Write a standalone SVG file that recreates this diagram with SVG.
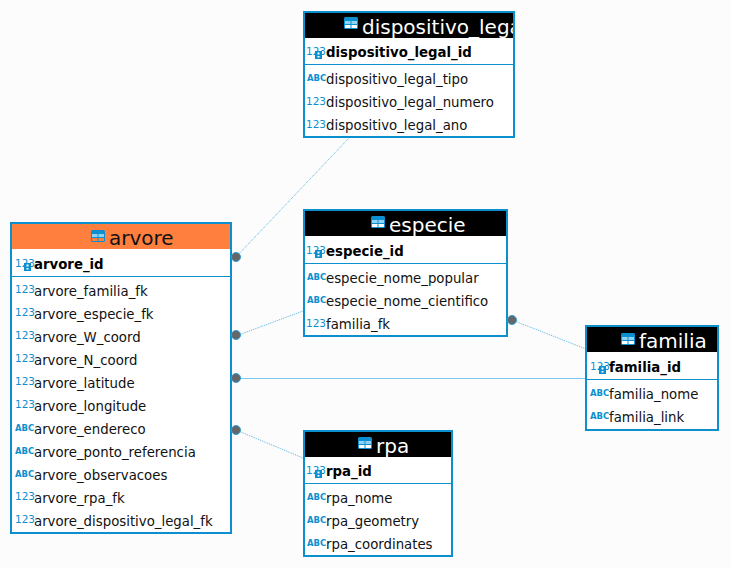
<svg xmlns="http://www.w3.org/2000/svg" xmlns:xlink="http://www.w3.org/1999/xlink" width="730" height="568" viewBox="0 0 730 568">
<style>
text{font-family:"DejaVu Sans",sans-serif}
.box{fill:#fff;stroke:#0b8fcf;stroke-width:2}
.sep{stroke:#0b8fcf;stroke-width:1}
.hd{fill:#000}
.hdo{fill:#ff7f3f}
.t{font-size:20px;fill:#fff;text-anchor:start}
.c{font-size:13.3px;fill:#111}
.k{font-size:13.3px;fill:#000;font-weight:bold}
.n{font-size:10.5px;fill:#0b8fcf}
.a{font-size:8.5px;fill:#0b8fcf;font-weight:bold}
.ln{fill:none;stroke:#55b5e0;stroke-width:1;stroke-dasharray:1 1}
.sl{fill:none;stroke:#7cc8ea;stroke-width:1}
.dot{fill:#666;stroke:#2f9fd8;stroke-width:1}
</style>
<defs>
<g id="tb"><rect x="0" y="0" width="14" height="12" rx="1.5" fill="#0b8fcf"/><rect x="1" y="4" width="5.5" height="3" fill="#8fd3f4"/><rect x="7.5" y="4" width="5.5" height="3" fill="#8fd3f4"/><rect x="1" y="8" width="5.5" height="3" fill="#fff"/><rect x="7.5" y="8" width="5.5" height="3" fill="#fff"/></g>
<g id="tbo"><rect x="0" y="0" width="14" height="12" rx="1.5" fill="#0b8fcf"/><rect x="1" y="4" width="5.5" height="3" fill="#8fd3f4"/><rect x="7.5" y="4" width="5.5" height="3" fill="#8fd3f4"/><rect x="1" y="8" width="5.5" height="3" fill="#ff7f3f"/><rect x="7.5" y="8" width="5.5" height="3" fill="#ff7f3f"/></g>
<g id="key"><rect x="0" y="0" width="7" height="8" fill="#0b8fcf"/><rect x="2.5" y="1.5" width="2" height="2" fill="#fff"/><rect x="2.5" y="5" width="2" height="1.5" fill="#fff"/></g>
<clipPath id="cl"><rect x="305" y="12" width="208" height="26"/></clipPath>
</defs>
<rect width="730" height="568" fill="#fcfcfc"/>
<g id="connectors">
<path class="ln" d="M236 257L349 138"/>
<path class="ln" d="M236 336L303 311"/>
<path class="sl" d="M236 378.500H586"/>
<path class="ln" d="M236 430L303 458"/>
<path class="ln" d="M512 320L586 349"/>
</g>
<g id="dispositivo_legal">
<rect class="box" x="304" y="12" width="210" height="125"/>
<rect class="hd" x="305" y="13" width="208" height="25"/>
<use href="#tb" x="344" y="17"/>
<text class="t" x="362" y="34" clip-path="url(#cl)">dispositivo_legal</text>
<line class="sep" x1="305" y1="64.500" x2="513" y2="64.500"/>
<text class="n" x="306" y="55">123</text><use href="#key" x="315" y="51"/>
<text class="k" x="326" y="57">dispositivo_legal_id</text>
<text class="a" x="307" y="81">ABC</text><text class="c" x="326" y="84">dispositivo_legal_tipo</text>
<text class="n" x="306" y="105">123</text><text class="c" x="326" y="107">dispositivo_legal_numero</text>
<text class="n" x="306" y="128">123</text><text class="c" x="326" y="130">dispositivo_legal_ano</text>
</g>
<g id="especie">
<rect class="box" x="304" y="210" width="203" height="126"/>
<rect class="hd" x="305" y="211" width="201" height="25"/>
<use href="#tb" x="371" y="216"/>
<text class="t" x="389" y="232">especie</text>
<line class="sep" x1="305" y1="263.500" x2="506" y2="263.500"/>
<text class="n" x="306" y="254">123</text><use href="#key" x="315" y="250"/>
<text class="k" x="326" y="256">especie_id</text>
<text class="a" x="307" y="280">ABC</text><text class="c" x="326" y="283">especie_nome_popular</text>
<text class="a" x="307" y="303">ABC</text><text class="c" x="326" y="306">especie_nome_cientifico</text>
<text class="n" x="306" y="327">123</text><text class="c" x="326" y="329">familia_fk</text>
</g>
<g id="arvore">
<rect class="box" x="11" y="223" width="220" height="310"/>
<rect class="hdo" x="12" y="224" width="218" height="25"/>
<use href="#tbo" x="91" y="230"/>
<text class="t" x="109" y="245" style="fill:#111">arvore</text>
<line class="sep" x1="12" y1="276.500" x2="230" y2="276.500"/>
<text class="n" x="15" y="267">123</text><use href="#key" x="24" y="263"/>
<text class="k" x="34" y="269">arvore_id</text>
<text class="n" x="15" y="293">123</text><text class="c" x="34" y="296">arvore_familia_fk</text>
<text class="n" x="15" y="316">123</text><text class="c" x="34" y="319">arvore_especie_fk</text>
<text class="n" x="15" y="339">123</text><text class="c" x="34" y="342">arvore_W_coord</text>
<text class="n" x="15" y="362">123</text><text class="c" x="34" y="365">arvore_N_coord</text>
<text class="n" x="15" y="385">123</text><text class="c" x="34" y="388">arvore_latitude</text>
<text class="n" x="15" y="408">123</text><text class="c" x="34" y="411">arvore_longitude</text>
<text class="a" x="15" y="431">ABC</text><text class="c" x="34" y="434">arvore_endereco</text>
<text class="a" x="15" y="454">ABC</text><text class="c" x="34" y="457">arvore_ponto_referencia</text>
<text class="a" x="15" y="477">ABC</text><text class="c" x="34" y="480">arvore_observacoes</text>
<text class="n" x="15" y="500">123</text><text class="c" x="34" y="503">arvore_rpa_fk</text>
<text class="n" x="15" y="523">123</text><text class="c" x="34" y="526">arvore_dispositivo_legal_fk</text>
</g>
<g id="familia">
<rect class="box" x="586" y="326" width="132" height="104"/>
<rect class="hd" x="587" y="327" width="130" height="25"/>
<use href="#tb" x="621" y="333"/>
<text class="t" x="639" y="348">familia</text>
<line class="sep" x1="587" y1="379.500" x2="717" y2="379.500"/>
<text class="n" x="590" y="370">123</text><use href="#key" x="599" y="366"/>
<text class="k" x="609" y="372">familia_id</text>
<text class="a" x="590" y="396">ABC</text><text class="c" x="609" y="399">familia_nome</text>
<text class="a" x="590" y="419">ABC</text><text class="c" x="609" y="422">familia_link</text>
</g>
<g id="rpa">
<rect class="box" x="304" y="431" width="148" height="125"/>
<rect class="hd" x="305" y="432" width="146" height="25"/>
<use href="#tb" x="358" y="437"/>
<text class="t" x="376" y="453">rpa</text>
<line class="sep" x1="305" y1="483.500" x2="451" y2="483.500"/>
<text class="n" x="306" y="474">123</text><use href="#key" x="315" y="470"/>
<text class="k" x="326" y="476">rpa_id</text>
<text class="a" x="307" y="500">ABC</text><text class="c" x="326" y="503">rpa_nome</text>
<text class="a" x="307" y="523">ABC</text><text class="c" x="326" y="526">rpa_geometry</text>
<text class="a" x="307" y="546">ABC</text><text class="c" x="326" y="549">rpa_coordinates</text>
</g>
<g id="endpoints">
<circle class="dot" cx="236" cy="257" r="4.500"/>
<circle class="dot" cx="236" cy="335" r="4.500"/>
<circle class="dot" cx="236" cy="378" r="4.500"/>
<circle class="dot" cx="236" cy="430" r="4.500"/>
<circle class="dot" cx="512" cy="320" r="4.500"/>
</g>
</svg>
